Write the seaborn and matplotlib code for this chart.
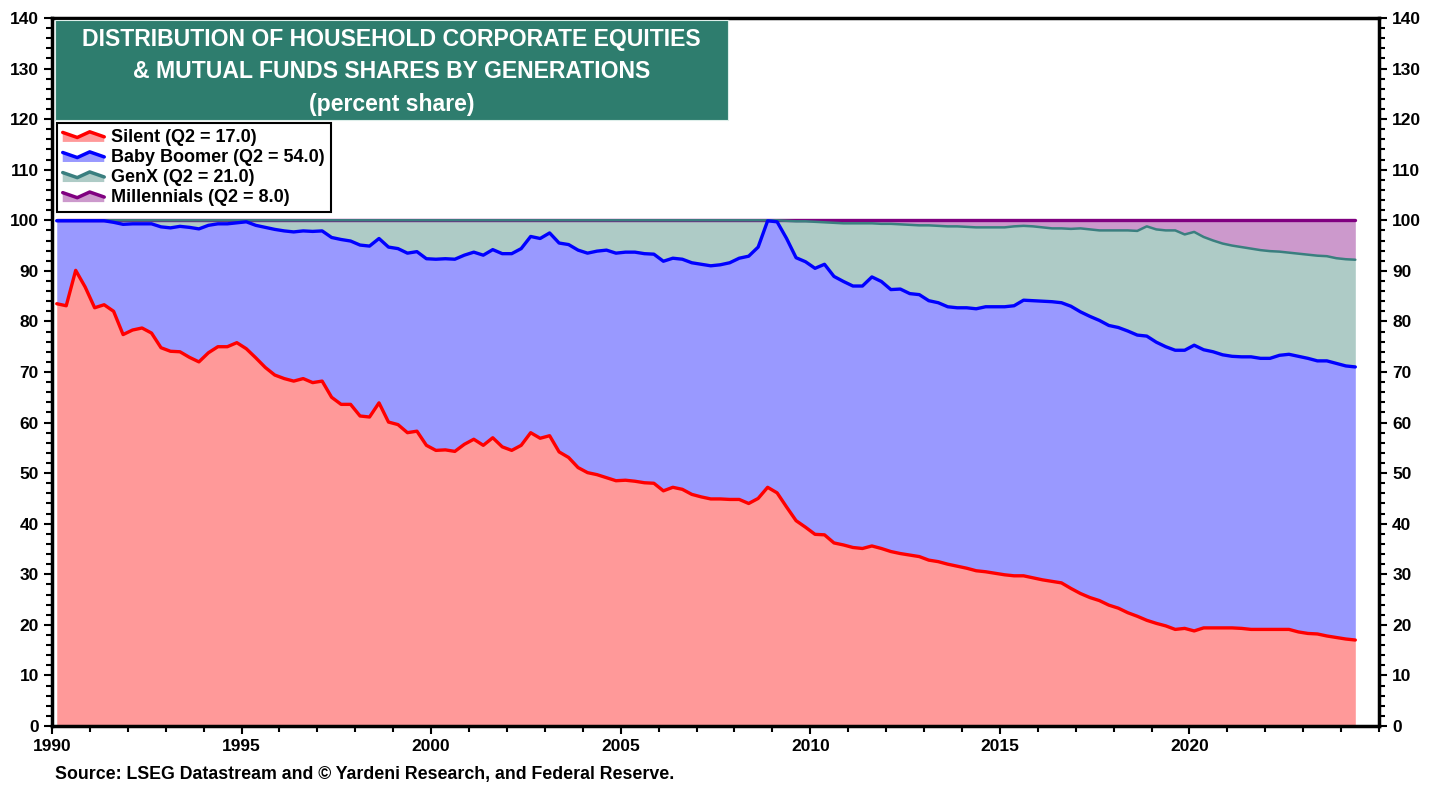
import numpy as np
import pandas as pd
import matplotlib
matplotlib.use("Agg")
import matplotlib.pyplot as plt
import seaborn as sns
from matplotlib.patches import Rectangle, Polygon, Patch
from matplotlib.lines import Line2D
from matplotlib.legend_handler import HandlerBase
from matplotlib.ticker import MultipleLocator

# quarterly, 1990Q1 .. 2024Q2 ; upper edge of each stacked band (percent)
silent_top = [
    83.5, 83.1, 90.1, 86.8, 82.7, 83.3, 82.0, 77.4, 78.3, 78.7, 77.7, 74.8,
    74.1, 74.0, 72.9, 72.0, 73.8, 75.0, 75.0, 75.8, 74.6, 72.8, 70.9, 69.4,
    68.7, 68.2, 68.7, 67.9, 68.2, 65.0, 63.6, 63.6, 61.3, 61.1, 63.9, 60.1,
    59.6, 58.0, 58.3, 55.5, 54.5, 54.6, 54.3, 55.7, 56.7, 55.5, 57.0, 55.2,
    54.5, 55.5, 58.0, 56.9, 57.4, 54.2, 53.1, 51.1, 50.1, 49.7, 49.1, 48.5,
    48.6, 48.4, 48.1, 48.0, 46.5, 47.2, 46.8, 45.8, 45.3, 44.9, 44.9, 44.8,
    44.8, 44.0, 45.0, 47.2, 46.1, 43.3, 40.6, 39.3, 37.9, 37.8, 36.2, 35.8,
    35.3, 35.1, 35.6, 35.1, 34.5, 34.1, 33.8, 33.5, 32.8, 32.5, 32.0, 31.6,
    31.2, 30.7, 30.5, 30.2, 29.9, 29.7, 29.7, 29.3, 28.9, 28.6, 28.3, 27.2,
    26.2, 25.4, 24.8, 23.9, 23.3, 22.4, 21.7, 20.9, 20.3, 19.8, 19.1, 19.3,
    18.8, 19.4, 19.4, 19.4, 19.4, 19.3, 19.1, 19.1, 19.1, 19.1, 19.1, 18.6,
    18.3, 18.2, 17.8, 17.5, 17.2, 17.0,
]
boomer_top = [
    99.9, 99.9, 99.9, 99.9, 99.9, 99.9, 99.6, 99.2, 99.3, 99.3, 99.3, 98.7,
    98.5, 98.8, 98.6, 98.3, 99.0, 99.3, 99.3, 99.5, 99.7, 99.0, 98.6, 98.2,
    97.9, 97.7, 97.9, 97.8, 97.9, 96.6, 96.2, 95.9, 95.1, 94.9, 96.4, 94.7,
    94.4, 93.5, 93.8, 92.4, 92.3, 92.4, 92.3, 93.1, 93.7, 93.1, 94.2, 93.4,
    93.4, 94.4, 96.8, 96.4, 97.5, 95.5, 95.2, 94.1, 93.5, 93.9, 94.1, 93.5,
    93.7, 93.7, 93.4, 93.3, 91.9, 92.5, 92.3, 91.6, 91.3, 91.0, 91.2, 91.6,
    92.5, 92.9, 94.7, 99.9, 99.7, 96.4, 92.6, 91.8, 90.5, 91.3, 88.9, 87.9,
    87.0, 87.0, 88.8, 87.9, 86.3, 86.4, 85.5, 85.3, 84.1, 83.7, 82.9, 82.7,
    82.7, 82.5, 82.9, 82.9, 82.9, 83.1, 84.2, 84.1, 84.0, 83.9, 83.7, 83.0,
    81.9, 81.0, 80.2, 79.2, 78.8, 78.1, 77.3, 77.1, 75.9, 75.0, 74.3, 74.3,
    75.3, 74.4, 74.0, 73.4, 73.1, 73.0, 73.0, 72.7, 72.7, 73.3, 73.5, 73.1,
    72.7, 72.2, 72.2, 71.7, 71.2, 71.0,
]
genx_top = [100.0] * 77 + [
    99.9, 99.8, 99.8, 99.7, 99.6, 99.5, 99.4, 99.4, 99.4, 99.4, 99.3, 99.3,
    99.2, 99.1, 99.0, 99.0, 98.9, 98.8, 98.8, 98.7, 98.6, 98.6, 98.6, 98.6,
    98.8, 98.9, 98.8, 98.6, 98.4, 98.4, 98.3, 98.4, 98.2, 98.0, 98.0, 98.0,
    98.0, 97.9, 98.8, 98.2, 98.0, 98.0, 97.2, 97.7, 96.7, 96.0, 95.4, 95.0,
    94.7, 94.4, 94.1, 93.9, 93.8, 93.6, 93.4, 93.2, 93.0, 92.9, 92.5, 92.3,
    92.2,
]
millennials_top = [100.0] * len(silent_top)

labels = ["Silent (Q2 = 17.0)", "Baby Boomer (Q2 = 54.0)",
          "GenX (Q2 = 21.0)", "Millennials (Q2 = 8.0)"]
fills = ["#FF9999", "#9999FF", "#AECBC6", "#CC99CC"]
lines = ["#FF0000", "#0000FF", "#3A7F7F", "#800080"]
title_lines = ["DISTRIBUTION OF HOUSEHOLD CORPORATE EQUITIES",
               "& MUTUAL FUNDS SHARES BY GENERATIONS",
               "(percent share)"]
source = "Source: LSEG Datastream and \u00a9 Yardeni Research, and Federal Reserve."

dates = 1990 + 0.125 + 0.25 * np.arange(len(silent_top))
df = pd.DataFrame({"date": dates, "silent": silent_top, "boomer": boomer_top,
                   "genx": genx_top, "millennials": millennials_top})

sns.set_style("white")
plt.rcParams["font.family"] = ["Liberation Sans", "DejaVu Sans"]
plt.rcParams["font.weight"] = "bold"
plt.rcParams["text.color"] = "black"

fig = plt.figure(figsize=(14.41, 7.87), dpi=100)
ax = fig.add_axes([52 / 1441, 61 / 787, 1327 / 1441, 708 / 787])

cols = ["silent", "boomer", "genx", "millennials"]
lower = np.zeros(len(df))
for c, fc in zip(cols, fills):
    ax.fill_between(df["date"], lower, df[c], color=fc, lw=0, zorder=1)
    lower = df[c].values

widths = [2.4, 2.4, 1.8, 2.4]
for c, lc, w in reversed(list(zip(cols, lines, widths))):
    sns.lineplot(data=df, x="date", y=c, color=lc, lw=w, ax=ax, zorder=3)

ax.set_xlim(1990, 2025)
ax.set_ylim(0, 140)
ax.set_xlabel("")
ax.set_ylabel("")
ax.xaxis.set_major_locator(MultipleLocator(5))
ax.xaxis.set_minor_locator(MultipleLocator(1))
ax.yaxis.set_major_locator(MultipleLocator(10))
ax.yaxis.set_minor_locator(MultipleLocator(2))
ax.set_xticks(range(1990, 2025, 5))
ax.tick_params(axis="both", which="both", direction="out", colors="black",
               labelsize=12.5, width=1.5)
ax.tick_params(axis="both", which="major", length=6)
ax.tick_params(axis="both", which="minor", length=4)
ax.tick_params(axis="y", which="both", left=True, right=True, labelright=True)
ax.tick_params(axis="x", which="both", bottom=True, top=False)
for lab in ax.get_xticklabels() + ax.get_yticklabels():
    lab.set_fontweight("bold")
for s in ax.spines.values():
    s.set_visible(True)
    s.set_color("black")
    s.set_linewidth(2.5)

# title box
ax.add_patch(Rectangle((0.0025, 0.856), 0.507, 0.141, transform=ax.transAxes,
                       facecolor="#2E7D6E", edgecolor="#DDEEEA", lw=0.8, zorder=5))
for txt, yy in zip(title_lines, [0.970, 0.924, 0.878]):
    ax.text(0.256, yy, txt, transform=ax.transAxes, ha="center", va="center",
            color="white", fontsize=16.6, fontweight="bold", zorder=6)


class AreaHandler(HandlerBase):
    def __init__(self, fc, lc):
        super().__init__()
        self.fc = fc
        self.lc = lc

    def create_artists(self, legend, orig_handle, xdescent, ydescent,
                       width, height, fontsize, trans):
        xs = np.array([0.0, 0.35, 0.65, 1.0]) * width - xdescent
        ys = np.array([0.75, 0.35, 0.8, 0.4]) * height - ydescent
        pts = list(zip(xs, ys)) + [(xs[-1], -ydescent), (xs[0], -ydescent)]
        poly = Polygon(pts, closed=True, fc=self.fc, ec="none", transform=trans)
        ln = Line2D(xs, ys, color=self.lc, lw=2.5, transform=trans)
        return [poly, ln]


handles = [Patch(label=l) for l in labels]
hmap = {h: AreaHandler(fc, lc) for h, fc, lc in zip(handles, fills, lines)}
leg = ax.legend(handles=handles, labels=labels, handler_map=hmap,
                loc="upper left", bbox_to_anchor=(0.004, 0.851), borderaxespad=0,
                prop={"weight": "bold", "size": 13}, frameon=True, fancybox=False,
                framealpha=1, edgecolor="black", labelspacing=0.17,
                handlelength=2.3, handletextpad=0.4, borderpad=0.3,
                labelcolor="black")
leg.get_frame().set_linewidth(1.5)
leg.set_zorder(7)

fig.text(55 / 1441, 1 - 775 / 787, source, ha="left", va="center",
         fontsize=12.8, fontweight="bold", color="black")

fig.savefig("out.png", dpi=100)
